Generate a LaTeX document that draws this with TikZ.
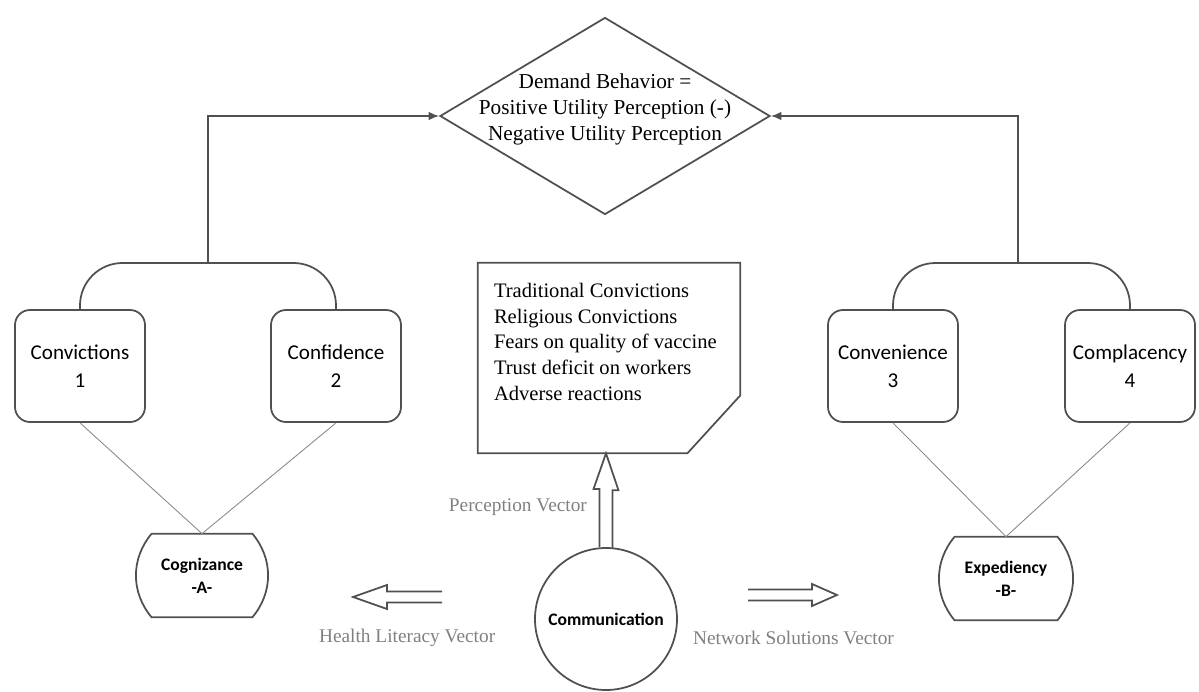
\documentclass[tikz,border=0pt]{standalone}
\usepackage{fontspec}
\setmainfont{Liberation Serif}
\setsansfont{Carlito}
\usepackage{tikz}
\usetikzlibrary{arrows.meta,positioning,calc,shapes.geometric}
\definecolor{ink}{HTML}{505050}
\definecolor{thin}{HTML}{8A8A8A}

\begin{document}
\begin{tikzpicture}[
    ln/.style={draw=ink, line width=1pt},
    arr/.style={-{Latex[length=6pt,width=5pt]}, draw=ink, line width=1pt},
    rbox/.style={rectangle, rounded corners=0.3cm, draw=ink, line width=1pt,
                 minimum width=2.6cm, minimum height=2.24cm, align=center,
                 font=\sffamily\fontsize{12}{16}\selectfont},
    dmd/.style={diamond, draw=ink, line width=1pt, inner sep=0pt,
                minimum width=6.6cm, minimum height=3.94cm},
    dtxt/.style={align=center, inner sep=0pt, font=\fontsize{12.1}{14.8}\selectfont},
    ntxt/.style={align=left, inner sep=0pt, font=\fontsize{11.7}{14.7}\selectfont},
    capsule/.style={minimum width=2.0cm, minimum height=1.66cm, inner sep=0pt, align=center,
                font=\sffamily\bfseries\fontsize{10}{13}\selectfont},
    tie/.style={draw=thin, line width=0.5pt},
    hollow/.style={draw=ink, line width=1pt, line join=miter},
    vlbl/.style={inner sep=1pt, text=gray, font=\fontsize{11}{13}\selectfont},
  ]
  \useasboundingbox (0,0) rectangle (23.98,13.82);

  % decision diamond on top
  \node[dmd] (dm) at (12.10,11.50) {};
  \node[dtxt] (dmt) at ([yshift=0.14cm]dm.center)
    {Demand Behavior =\\Positive Utility Perception (-)\\Negative Utility Perception};

  % the four factor boxes
  \node[rbox] (conv) at (1.60,6.50)  {Convictions\\1};
  \node[rbox] (conf) at (6.72,6.50)  {Confidence\\2};
  \node[rbox] (cnv)  at (17.86,6.50) {Convenience\\3};
  \node[rbox] (cmp)  at (22.60,6.50) {Complacency\\4};

  % brackets joining each pair, then up to the diamond
  \coordinate (lj) at (4.16,8.56);
  \coordinate (rj) at (20.36,8.56);
  \draw[ln, rounded corners=0.85cm] (conv.north) |- (lj) -| (conf.north);
  \draw[ln, rounded corners=0.85cm] (cnv.north) |- (rj) -| (cmp.north);
  \draw[arr] (lj) |- (dm.west);
  \draw[arr] (rj) |- (dm.east);

  % note with cut corner
  \node[minimum width=5.24cm, minimum height=3.80cm] (nt) at (12.18,6.66) {};
  \draw[ln] (nt.north west) -- (nt.north east) -- ([yshift=1.16cm]nt.south east)
    -- ([xshift=-1.06cm]nt.south east) -- (nt.south west) -- cycle;
  \node[ntxt, anchor=north west] (ntx) at ([xshift=0.32cm,yshift=-0.4cm]nt.north west)
    {Traditional Convictions\\Religious Convictions\\Fears on quality of vaccine\\
     Trust deficit on workers\\Adverse reactions};

  % A and B
  \node[capsule] (cog) at (4.04,2.31)  {Cognizance\\-A-};
  \node[capsule, minimum width=2.04cm] (exp) at (20.12,2.25) {Expediency\\-B-};
  \foreach \n in {cog,exp}
    \draw[ln] (\n.north west) -- (\n.north east) to[out=-50,in=50] (\n.south east)
      -- (\n.south west) to[out=130,in=-130] (\n.north west);
  \draw[tie] (conv.south) -- (cog.north);
  \draw[tie] (conf.south) -- (cog.north);
  \draw[tie] (cnv.south) -- (exp.north);
  \draw[tie] (cmp.south) -- (exp.north);

  % communication and its three vectors
  \node[circle, draw=ink, line width=1pt, minimum size=2.84cm, inner sep=0pt,
        font=\sffamily\bfseries\fontsize{10}{12}\selectfont] (comm) at (12.12,1.44) {Communication};
  \draw[hollow] ([xshift=-0.13cm]comm.north) -- ++(0,1.16) -- ++(-0.12,0)
    -- (comm.north |- nt.south) -- ++(0.25,-0.74) -- ++(-0.12,0) -- ++(0,-1.16);
  \coordinate (hlt) at (8.84,1.88);
  \draw[hollow] ([yshift=0.11cm]hlt) -- ++(-1.10,0) -- ++(0,0.13) -- ++(-0.68,-0.24)
    -- ++(0.68,-0.24) -- ++(0,0.13) -- ++(1.10,0);
  \coordinate (nst) at (14.96,1.92);
  \draw[hollow] ([yshift=0.11cm]nst) -- ++(1.28,0) -- ++(0,0.11) -- ++(0.5,-0.22)
    -- ++(-0.5,-0.22) -- ++(0,0.11) -- ++(-1.28,0);

  \node[vlbl, anchor=east] (pv) at (11.78,3.68) {Perception Vector};
  \node[vlbl, anchor=west] (hl) at (6.34,1.06)  {Health Literacy Vector};
  \node[vlbl]              (ns) at (15.87,1.06) {Network Solutions Vector};
\end{tikzpicture}
\end{document}
